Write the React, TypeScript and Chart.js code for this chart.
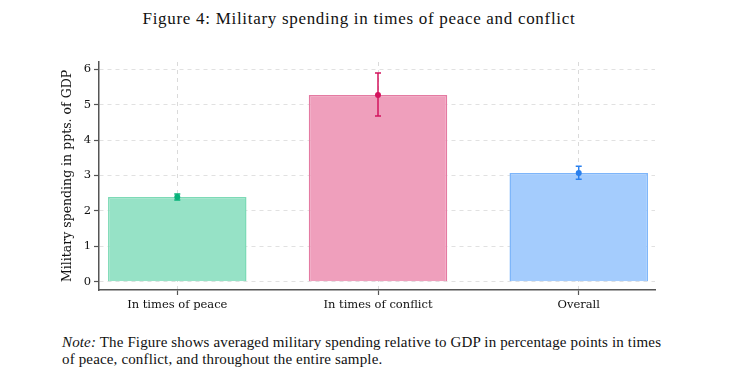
import React, { useEffect, useRef } from "react";
import { Chart, registerables } from "chart.js";

Chart.register(...registerables);

const categories = ["In times of peace", "In times of conflict", "Overall"];
const means = [2.39, 5.27, 3.07];
const lows = [2.31, 4.68, 2.89];
const highs = [2.48, 5.89, 3.26];
const yTicks = [0, 1, 2, 3, 4, 5, 6];

const fillColors = ["rgba(150,226,198,1)", "rgba(239,159,188,1)", "rgba(164,204,253,1)"];
const borderColors = ["rgba(125,218,182,1)", "rgba(228,122,162,1)", "rgba(125,181,250,1)"];
const markColors = ["#08b27a", "#d4145e", "#2a80ee"];

const SERIF = "'DejaVu Serif', 'Liberation Serif', serif";
const SERIF2 = "'Liberation Serif', 'DejaVu Serif', serif";

export default function App() {
  const ref = useRef<HTMLCanvasElement | null>(null);
  useEffect(() => {
    if (!ref.current) return;
    const errorBars = {
      id: "errorBars",
      afterDatasetsDraw(chart: any) {
        const { ctx, scales } = chart;
        const xs = scales.x, ys = scales.y;
        ctx.save();
        means.forEach((m, i) => {
          const x = xs.getPixelForValue(i + 1);
          const yl = ys.getPixelForValue(lows[i]);
          const yh = ys.getPixelForValue(highs[i]);
          ctx.strokeStyle = markColors[i];
          ctx.lineWidth = 1.5;
          ctx.beginPath();
          ctx.moveTo(x, yl);
          ctx.lineTo(x, yh);
          ctx.moveTo(x - 3, yl);
          ctx.lineTo(x + 3, yl);
          ctx.moveTo(x - 3, yh);
          ctx.lineTo(x + 3, yh);
          ctx.stroke();
          ctx.fillStyle = markColors[i];
          ctx.beginPath();
          ctx.arc(x, ys.getPixelForValue(m), 3, 0, Math.PI * 2);
          ctx.fill();
        });
        ctx.restore();
      },
    };
    const chart = new Chart(ref.current, {
      type: "bar",
      data: {
        datasets: [
          {
            data: means.map((v, i) => ({ x: i + 1, y: v })),
            backgroundColor: fillColors,
            borderColor: borderColors,
            borderWidth: 1.5,
            categoryPercentage: 1,
            barPercentage: 0.69,
          } as any,
        ],
      },
      options: {
        animation: false,
        responsive: false,
        maintainAspectRatio: false,
        layout: { padding: { left: 60, top: 62, right: 75, bottom: 5 } },
        plugins: { legend: { display: false }, tooltip: { enabled: false } },
        scales: {
          x: {
            type: "linear",
            offset: false,
            min: 0.61,
            max: 3.38,
            afterBuildTicks: (s: any) => {
              s.ticks = categories.map((_, i) => ({ value: i + 1 }));
            },
            afterFit: (s: any) => {
              s.height = 25;
            },
            ticks: {
              callback: (v: any) => categories[Number(v) - 1],
              color: "#111",
              font: { family: SERIF, size: 11.5 },
              padding: 3,
              maxRotation: 0,
              autoSkip: false,
            },
            grid: {
              offset: false,
              color: "rgba(218,218,218,1)",
              lineWidth: 1,
              tickLength: 5,
              tickColor: "#555",
              tickWidth: 1.2,
            },
            border: { color: "#555", width: 1.5, dash: [4, 4] },
          },
          y: {
            min: -0.23,
            max: 6.2,
            afterBuildTicks: (s: any) => {
              s.ticks = yTicks.map((v) => ({ value: v }));
            },
            afterFit: (s: any) => {
              s.width = 39;
            },
            ticks: {
              color: "#111",
              font: { family: SERIF, size: 11.5 },
              padding: 3,
            },
            grid: {
              color: "rgba(225,225,225,1)",
              lineWidth: 1,
              tickLength: 5,
              tickColor: "#555",
              tickWidth: 1.2,
            },
            border: { color: "#555", width: 1.5, dash: [4, 4] },
            title: {
              display: true,
              text: "Military spending in ppts. of GDP",
              color: "#111",
              font: { family: SERIF, size: 12.5 },
              padding: { top: 0, bottom: 0 },
            },
          },
        },
      },
      plugins: [errorBars],
    });
    return () => chart.destroy();
  }, []);

  return (
    <div style={{ position: "fixed", left: 0, top: 0, width: 730, height: 370, background: "#fff", fontFamily: SERIF2 }}>
      <div style={{ position: "absolute", left: 0, width: 718, top: 9, textAlign: "center", fontSize: 17, letterSpacing: "0.7px", color: "#111" }}>
        Figure 4: Military spending in times of peace and conflict
      </div>
      <canvas ref={ref} width={730} height={320} style={{ position: "absolute", left: 0, top: 0 }} />
      <div style={{ position: "absolute", left: 62, top: 334, width: 608, fontSize: 15, letterSpacing: "0.15px", lineHeight: "17px", color: "#111" }}>
        <i>Note:</i> The Figure shows averaged military spending relative to GDP in percentage points in times of peace, conflict, and throughout the entire sample.
      </div>
    </div>
  );
}
